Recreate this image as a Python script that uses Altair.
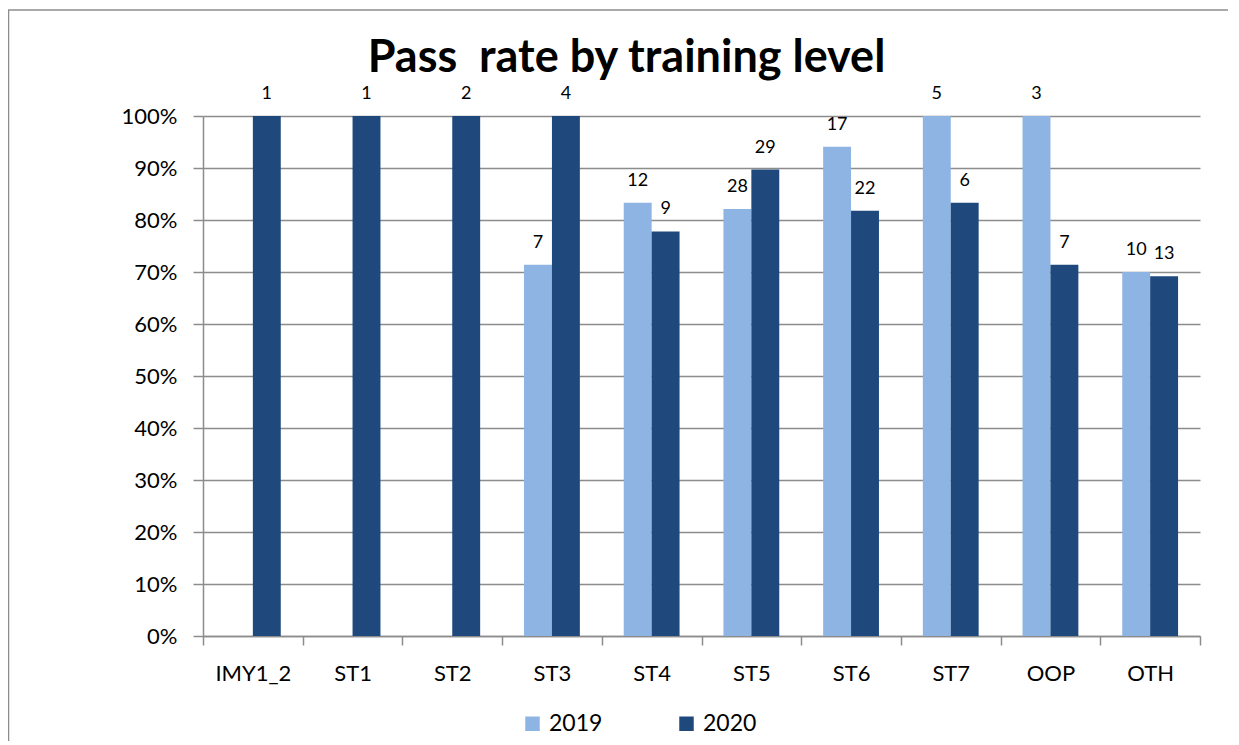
import altair as alt
import pandas as pd

categories = ["IMY1_2", "ST1", "ST2", "ST3", "ST4", "ST5", "ST6", "ST7", "OOP", "OTH"]
rate_2019 = [None, None, None, 71.4, 83.3, 82.1, 94.1, 100.0, 100.0, 70.0]
count_2019 = [None, None, None, 7, 12, 28, 17, 5, 3, 10]
rate_2020 = [100.0, 100.0, 100.0, 100.0, 77.8, 89.7, 81.8, 83.3, 71.4, 69.2]
count_2020 = [1, 1, 2, 4, 9, 29, 22, 6, 7, 13]
years = ["2019", "2020"]
colors = ["#8EB4E3", "#1F497D"]

rows = []
for c, r, n in zip(categories, rate_2019, count_2019):
    if r is not None:
        rows.append({"level": c, "year": "2019", "rate": r, "n": n})
for c, r, n in zip(categories, rate_2020, count_2020):
    if r is not None:
        rows.append({"level": c, "year": "2020", "rate": r, "n": n})
df = pd.DataFrame(rows)

FONT = "Lato"

x = alt.X("level:N", sort=categories, title=None,
          scale=alt.Scale(paddingInner=0, paddingOuter=0),
          axis=alt.Axis(tickBand="extent", labelFontSize=22, labelColor="#000000",
                        labelFont=FONT, labelPadding=18, tickSize=9, tickColor="#8c8c8c",
                        tickWidth=1.5, domainColor="#8c8c8c", domainWidth=1.5,
                        labelAngle=0, grid=False))
xoff = alt.XOffset("year:N", sort=years,
                   scale=alt.Scale(domain=years, paddingInner=0, paddingOuter=0.786))
y = alt.Y("rate:Q", title=None,
          scale=alt.Scale(domain=[0, 100], nice=False),
          axis=alt.Axis(values=list(range(0, 101, 10)), labelExpr="datum.value + '%'",
                        labelFontSize=22, labelColor="#000000", labelFont=FONT,
                        labelPadding=16, tickSize=10, tickColor="#8c8c8c", tickWidth=1.5,
                        domainColor="#8c8c8c", domainWidth=1.5,
                        grid=True, gridColor="#8c8c8c", gridWidth=1.5))

bars = alt.Chart(df).mark_bar().encode(
    x=x, xOffset=xoff, y=y,
    color=alt.Color("year:N", sort=years,
                    scale=alt.Scale(domain=years, range=colors),
                    legend=alt.Legend(title=None, orient="none", legendX=318, legendY=596,
                                      direction="horizontal", symbolType="square",
                                      symbolSize=210, labelFontSize=23, labelFont=FONT,
                                      labelColor="#000000", labelOffset=5,
                                      columnPadding=72, padding=0, symbolStrokeWidth=0)),
)

labels = alt.Chart(df).mark_text(fontSize=18, font=FONT, baseline="alphabetic",
                                 dy=-17, color="#000000").encode(
    x=alt.X("level:N", sort=categories), xOffset=alt.XOffset("year:N", sort=years),
    y=alt.Y("rate:Q"), text="n:Q")

one = pd.DataFrame({"a": [0]})
border_left = alt.Chart(one).mark_rule(color="#8c8c8c", strokeWidth=1.5).encode(
    x=alt.value(-194.5), y=alt.value(-106), y2=alt.value(640))
border_top = alt.Chart(one).mark_rule(color="#8c8c8c", strokeWidth=1.5).encode(
    x=alt.value(-195), x2=alt.value(1025), y=alt.value(-106))

chart = alt.layer(bars, labels, border_left, border_top).properties(
    width=997, height=520,
    title=alt.TitleParams("Pass \u00a0rate by training level", fontSize=45, font=FONT,
                          fontWeight="bold", color="#000000", anchor="middle",
                          frame="group", dx=-75, offset=-108, baseline="alphabetic"),
    autosize=alt.AutoSizeParams(type="none"),
    padding={"left": 195, "top": 108, "right": 28, "bottom": 105},
).configure_view(stroke=None)

chart.save("out.html", embed_options={"renderer": "svg", "actions": False})
